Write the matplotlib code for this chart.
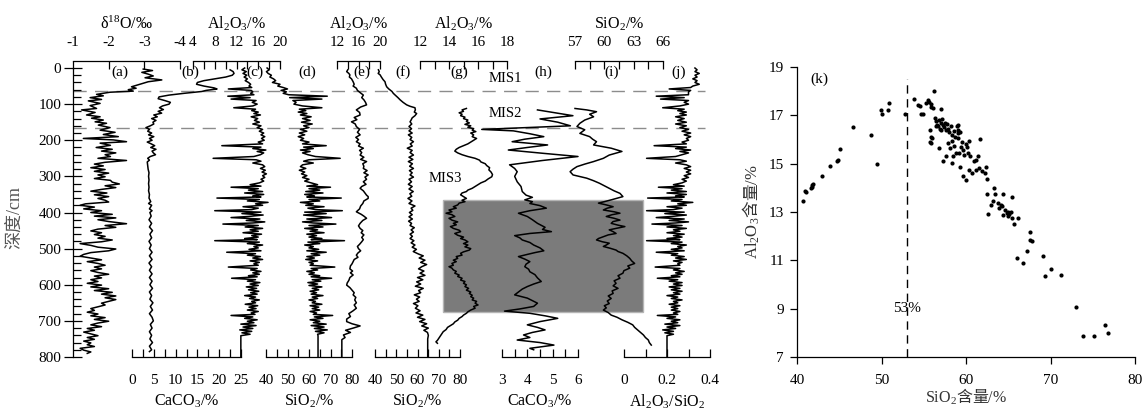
import matplotlib.pyplot as plt
from matplotlib.patches import Rectangle
import numpy as np

plt.rcParams['font.family'] = ['Liberation Serif', 'Noto Sans CJK SC']
plt.rcParams['mathtext.fontset'] = 'custom'
plt.rcParams['mathtext.rm'] = 'Liberation Serif'
plt.rcParams['mathtext.it'] = 'Liberation Serif:italic'
plt.rcParams['mathtext.bf'] = 'Liberation Serif:bold'
plt.rcParams['font.size'] = 11
plt.rcParams['axes.linewidth'] = 0.9

# ---------------- core profiles (depth cm, value) ----------------
d18O = [
    (3, -2.97), (7, -3.23), (12, -2.93), (17, -3.11), (22, -3.25), (27, -3.02), (33, -3.49), (38, -3.11),
    (45, -2.88), (52, -2.64), (56, -2.77), (60, -2.55), (64, -2.69), (67, -2.04), (73, -1.66), (77, -1.85),
    (82, -1.48), (87, -1.80), (91, -1.43), (98, -1.76), (104, -1.48), (112, -1.66), (116, -1.24), (123, -1.62),
    (130, -1.38), (135, -1.76), (139, -1.52), (144, -1.85), (149, -1.62), (153, -1.94), (158, -1.71), (165, -2.04),
    (172, -1.76), (178, -2.18), (184, -1.85), (190, -2.27), (195, -1.29), (199, -2.13), (204, -2.50), (208, -1.76),
    (214, -2.05), (220, -1.65), (225, -2.10), (230, -1.80), (235, -2.20), (240, -1.90), (245, -2.05), (250, -1.70),
    (256, -2.50), (261, -1.90), (266, -1.60), (271, -1.85), (276, -1.50), (281, -1.90), (286, -1.60), (291, -2.00),
    (296, -1.70), (301, -1.90), (306, -1.60), (311, -2.05), (316, -2.10), (321, -2.30), (326, -1.90), (331, -2.20),
    (336, -1.80), (341, -1.50), (346, -1.95), (351, -1.60), (356, -2.00), (361, -1.70), (366, -1.90), (371, -2.00),
    (376, -1.35), (380, -1.20), (385, -1.60), (390, -1.30), (395, -1.80), (400, -1.50), (405, -2.10), (410, -1.60),
    (415, -2.20), (420, -1.70), (425, -2.00), (431, -2.50), (436, -1.90), (441, -2.20), (446, -1.70), (451, -1.50),
    (456, -1.80), (461, -1.60), (466, -1.90), (471, -1.70), (476, -2.10), (481, -1.80), (486, -1.20), (491, -1.50),
    (496, -1.70), (501, -2.20), (506, -2.00), (511, -1.50), (516, -1.30), (521, -1.20), (526, -1.50), (531, -1.80),
    (536, -1.40), (541, -1.70), (546, -1.90), (551, -1.60), (556, -1.80), (561, -1.50), (566, -1.70), (571, -2.00),
    (576, -1.60), (581, -1.80), (586, -1.50), (591, -1.70), (596, -1.40), (601, -1.80), (606, -1.50), (611, -2.00),
    (616, -1.60), (621, -2.10), (626, -1.80), (631, -2.20), (636, -1.90), (641, -2.20), (646, -2.00), (651, -1.80),
    (656, -1.90), (661, -1.70), (666, -1.50), (671, -1.60), (676, -1.40), (681, -1.70), (686, -1.50), (691, -1.90),
    (696, -1.60), (701, -2.00), (706, -1.70), (711, -1.50), (716, -1.80), (721, -1.40), (726, -1.60), (731, -1.30),
    (736, -1.50), (741, -1.70), (746, -1.40), (751, -1.60), (756, -1.30), (761, -1.50), (766, -1.40), (771, -1.60),
    (776, -1.20), (781, -1.30), (786, -1.50), (790, -1.40),
]

caco3_b = [
    (5, 22.5), (10, 23.2), (15, 23.4), (20, 23.0), (25, 21.5), (30, 19.0), (35, 16.5), (40, 15.0), (45, 14.8),
    (50, 16.5), (55, 18.8), (58, 19.5), (62, 17.0), (65, 16.0), (70, 12.0), (75, 8.5), (80, 6.2), (85, 6.0),
    (90, 7.5), (95, 8.8), (100, 8.5), (105, 7.0), (110, 6.3), (115, 7.2), (120, 6.0), (125, 6.8), (130, 5.0),
    (135, 5.8), (140, 4.5), (145, 5.5), (150, 4.8), (155, 5.0), (160, 4.2), (165, 3.2), (170, 4.0), (175, 3.6),
    (180, 4.5), (185, 3.8), (190, 5.0), (195, 4.0), (200, 4.6), (205, 3.5), (210, 4.4), (215, 5.2), (220, 4.3),
    (225, 5.5), (230, 4.6), (235, 4.9), (240, 5.4), (245, 4.2), (250, 3.6), (255, 4.0), (260, 3.5), (270, 3.6),
    (280, 3.7), (290, 3.9), (300, 3.8), (310, 3.9), (320, 3.8), (330, 3.9), (340, 3.8), (350, 4.0), (360, 3.9),
    (370, 4.3), (375, 3.8), (380, 4.5), (390, 4.0), (395, 4.6), (400, 4.1), (410, 4.4), (420, 3.9), (430, 4.5),
    (440, 4.0), (450, 4.7), (460, 4.1), (470, 4.5), (480, 3.9), (490, 4.4), (500, 4.0), (510, 4.6), (520, 4.0),
    (530, 4.6), (540, 3.9), (550, 4.5), (560, 4.0), (570, 4.6), (580, 4.0), (590, 4.6), (600, 4.1), (610, 4.7),
    (620, 4.0), (630, 4.5), (640, 4.1), (650, 4.8), (660, 4.2), (670, 4.7), (680, 4.0), (690, 4.6), (700, 4.9),
    (710, 4.2), (720, 4.6), (730, 4.0), (740, 4.5), (750, 4.1), (760, 4.7), (770, 4.0), (780, 4.5), (785, 4.0),
]

# XRF scan: Al2O3 (c), SiO2 (d) and their ratio (j) share one depth list
xrf_depth = [
    0, 5, 10, 15, 20, 25, 30, 35, 40, 45,
    50, 54, 58, 62, 66, 70, 74, 78, 82, 86,
    90, 95, 100, 105, 110, 114, 118, 122, 126, 130,
    135, 140, 145, 150, 155, 160, 165, 170, 175, 180,
    185, 190, 195, 200, 205, 210, 215, 219, 223, 227,
    231, 235, 240, 245, 250, 254, 258, 263, 268, 273,
    278, 283, 288, 293, 298, 303, 308, 313, 318, 323,
    327, 330, 334, 338, 342, 346, 350, 354, 357, 360,
    364, 368, 372, 376, 380, 384, 388, 392, 395, 399,
    403, 407, 411, 414, 418, 422, 426, 429, 432, 436,
    440, 444, 448, 452, 456, 460, 464, 468, 472, 475,
    478, 482, 486, 490, 494, 498, 502, 506, 510, 514,
    518, 522, 526, 530, 534, 538, 542, 546, 551, 555,
    559, 563, 567, 571, 575, 578, 582, 586, 590, 594,
    598, 602, 606, 610, 614, 618, 622, 626, 630, 634,
    638, 642, 646, 650, 654, 658, 662, 666, 670, 674,
    678, 682, 685, 689, 693, 697, 701, 705, 709, 713,
    717, 721, 725, 729, 733, 737, 741, 800,
]
al2o3_c = [
    13.5, 13.0, 13.8, 13.2, 13.9, 13.4, 14.0, 13.6, 14.2, 14.6,
    14.3, 14.8, 10.5, 14.7, 15.0, 14.6, 15.2, 10.4, 14.5, 11.0,
    15.6, 14.9, 15.8, 15.0, 11.5, 15.5, 14.8, 16.0, 15.2, 16.4,
    14.7, 15.9, 15.3, 16.2, 15.0, 16.5, 15.8, 16.8, 16.2, 17.0,
    16.5, 17.2, 16.6, 17.1, 16.0, 16.8, 9.3, 16.5, 15.0, 17.4,
    15.8, 17.0, 16.4, 15.2, 7.7, 15.6, 16.5, 15.0, 16.8, 17.2,
    16.4, 17.3, 16.7, 17.5, 16.8, 17.2, 16.5, 17.0, 16.2, 14.5,
    16.5, 11.0, 16.0, 14.2, 16.8, 13.5, 17.0, 15.0, 16.5, 8.4,
    16.2, 14.0, 17.8, 15.5, 16.8, 13.2, 16.0, 14.8, 8.0, 16.5,
    13.0, 16.9, 14.2, 11.0, 16.3, 13.8, 17.2, 15.0, 9.5, 16.0,
    13.6, 16.8, 14.5, 16.0, 13.2, 16.6, 14.8, 16.0, 13.5, 15.8,
    8.0, 16.2, 14.0, 16.8, 15.2, 16.0, 14.3, 16.5, 10.2, 15.5,
    14.0, 16.4, 15.0, 16.8, 14.5, 16.2, 15.2, 16.0, 10.5, 15.8,
    14.6, 16.5, 15.0, 16.2, 14.2, 15.8, 11.1, 15.5, 14.0, 16.3,
    14.5, 16.0, 13.8, 15.7, 14.2, 16.1, 14.6, 15.8, 13.5, 15.5,
    14.4, 16.2, 14.8, 15.5, 13.6, 15.9, 14.3, 15.6, 14.0, 16.0,
    14.7, 15.4, 11.0, 15.0, 13.5, 15.8, 14.0, 15.2, 12.8, 15.6,
    13.2, 15.0, 12.6, 14.8, 13.0, 14.5, 12.8, 12.8,
]
sio2_d = [
    40.5, 41.5, 40.2, 41.0, 42.5, 41.8, 43.5, 44.5, 43.0, 46.5,
    45.5, 48.0, 50.0, 47.0, 49.5, 48.0, 50.5, 68.5, 51.0, 66.0,
    52.5, 54.0, 53.0, 57.0, 66.0, 55.5, 58.5, 55.0, 59.0, 56.0,
    61.0, 57.0, 60.5, 56.5, 61.5, 57.5, 60.0, 56.0, 59.0, 55.5,
    58.0, 55.0, 57.5, 56.0, 60.0, 57.0, 68.0, 57.5, 62.0, 56.0,
    60.5, 57.0, 59.5, 63.0, 74.5, 60.0, 57.5, 62.0, 57.0, 56.0,
    58.5, 55.5, 58.0, 56.5, 59.0, 57.0, 60.0, 58.0, 61.0, 64.0,
    59.0, 70.0, 60.0, 65.0, 58.5, 66.5, 58.0, 62.5, 59.0, 75.0,
    60.0, 65.0, 56.0, 62.0, 58.5, 67.0, 59.5, 63.0, 75.5, 58.0,
    68.0, 57.5, 64.5, 70.5, 59.0, 66.0, 57.0, 62.0, 72.5, 60.0,
    66.5, 58.0, 64.0, 60.5, 67.0, 59.0, 63.5, 60.0, 66.0, 61.0,
    76.5, 59.5, 65.0, 58.0, 62.0, 60.0, 64.5, 59.0, 68.0, 61.0,
    65.0, 59.0, 62.5, 58.5, 64.0, 60.0, 62.0, 60.5, 72.0, 61.0,
    64.0, 59.0, 62.5, 60.0, 65.0, 61.0, 70.5, 61.5, 65.5, 59.5,
    64.0, 60.0, 66.0, 61.5, 64.5, 60.5, 63.5, 61.0, 66.5, 61.5,
    64.0, 60.0, 63.0, 61.5, 66.0, 60.5, 64.5, 61.5, 65.0, 60.5,
    63.5, 62.0, 71.0, 62.5, 66.5, 60.5, 65.0, 62.0, 68.0, 61.0,
    67.0, 62.5, 68.5, 63.0, 67.0, 64.0, 64.2, 64.2,
]
ratio_j = [
    0.33, 0.34, 0.33, 0.35, 0.33, 0.34, 0.32, 0.34, 0.33, 0.35,
    0.32, 0.31, 0.21, 0.31, 0.30, 0.30, 0.30, 0.15, 0.28, 0.17,
    0.30, 0.28, 0.30, 0.26, 0.18, 0.28, 0.25, 0.29, 0.26, 0.29,
    0.24, 0.28, 0.25, 0.29, 0.24, 0.29, 0.26, 0.30, 0.27, 0.31,
    0.28, 0.31, 0.29, 0.30, 0.27, 0.29, 0.14, 0.29, 0.24, 0.31,
    0.26, 0.30, 0.27, 0.24, 0.105, 0.26, 0.29, 0.24, 0.29, 0.31,
    0.28, 0.31, 0.29, 0.31, 0.28, 0.30, 0.27, 0.29, 0.27, 0.23,
    0.28, 0.16, 0.27, 0.22, 0.29, 0.20, 0.29, 0.24, 0.28, 0.11,
    0.27, 0.22, 0.32, 0.25, 0.29, 0.20, 0.27, 0.23, 0.105, 0.28,
    0.19, 0.29, 0.22, 0.15, 0.28, 0.21, 0.30, 0.24, 0.13, 0.27,
    0.20, 0.29, 0.23, 0.26, 0.20, 0.28, 0.23, 0.27, 0.20, 0.26,
    0.105, 0.27, 0.22, 0.29, 0.25, 0.27, 0.22, 0.28, 0.15, 0.25,
    0.22, 0.28, 0.24, 0.29, 0.23, 0.27, 0.25, 0.26, 0.145, 0.26,
    0.23, 0.28, 0.24, 0.27, 0.22, 0.26, 0.155, 0.25, 0.21, 0.27,
    0.23, 0.27, 0.21, 0.26, 0.22, 0.27, 0.23, 0.26, 0.20, 0.25,
    0.22, 0.27, 0.23, 0.25, 0.21, 0.26, 0.22, 0.25, 0.22, 0.26,
    0.23, 0.25, 0.155, 0.24, 0.20, 0.26, 0.22, 0.25, 0.19, 0.26,
    0.20, 0.24, 0.18, 0.23, 0.19, 0.23, 0.20, 0.20,
]

al2o3_e = [
    (5, 14.0), (10, 13.8), (15, 14.2), (19, 14.4), (25, 14.3), (30, 14.7), (38, 15.0), (45, 15.2), (50, 15.0),
    (56, 15.6), (62, 15.8), (68, 16.3), (75, 16.9), (82, 16.6), (88, 17.0), (95, 17.3), (102, 17.5), (108, 16.4),
    (116, 15.6), (123, 16.2), (130, 16.3), (137, 15.2), (143, 15.7), (149, 14.7), (155, 15.4), (162, 15.6),
    (170, 16.2), (178, 15.8), (185, 16.3), (192, 15.5), (198, 16.0), (204, 15.6), (210, 16.3), (216, 16.0),
    (222, 16.9), (228, 16.2), (234, 16.6), (241, 16.3), (247, 17.0), (253, 16.4), (259, 17.5), (265, 16.8),
    (272, 17.0), (278, 16.9), (284, 17.6), (290, 17.0), (296, 17.8), (302, 17.2), (308, 17.5), (315, 16.9),
    (322, 17.4), (328, 16.6), (333, 16.3), (340, 16.9), (346, 17.2), (352, 17.5), (356, 17.8), (361, 17.8),
    (368, 17.0), (375, 16.8), (382, 16.4), (390, 16.2), (398, 15.6), (405, 16.5), (410, 17.0), (416, 17.5),
    (422, 16.8), (430, 16.3), (437, 16.0), (444, 16.3), (450, 16.8), (456, 16.5), (462, 17.0), (469, 16.6),
    (475, 16.9), (481, 16.6), (488, 16.2), (494, 15.8), (500, 16.0), (506, 16.4), (512, 15.9), (518, 15.6),
    (524, 15.9), (530, 15.2), (536, 15.0), (542, 14.8), (548, 14.5), (556, 14.4), (562, 14.9), (567, 14.5),
    (573, 15.0), (580, 14.4), (588, 14.2), (595, 13.9), (601, 13.8), (608, 14.4), (615, 14.8), (622, 15.2),
    (628, 15.0), (635, 15.5), (642, 15.3), (650, 15.6), (656, 15.2), (665, 15.6), (672, 15.0), (680, 14.2),
    (688, 14.5), (695, 13.8), (702, 13.8), (708, 14.8), (714, 16.3), (720, 15.0), (726, 13.6), (732, 14.5),
    (739, 13.2), (746, 13.5), (752, 12.9), (757, 12.9), (800, 12.9),
]

sio2_f = [
    (5, 41.6), (10, 42.0), (15, 41.5), (19, 42.4), (25, 43.0), (32, 43.8), (38, 44.7), (45, 45.0), (52, 45.5),
    (58, 46.5), (65, 48.0), (70, 48.6), (75, 49.5), (82, 50.8), (88, 51.8), (95, 53.2), (102, 54.9), (106, 56.5),
    (110, 58.8), (116, 59.0), (122, 58.5), (126, 59.6), (132, 58.8), (138, 57.5), (144, 57.0), (149, 56.5),
    (155, 57.3), (162, 56.0), (168, 57.2), (174, 56.0), (180, 57.5), (185, 55.7), (192, 57.3), (198, 56.5),
    (204, 58.1), (210, 56.6), (216, 57.5), (222, 55.2), (228, 57.5), (234, 56.5), (241, 58.1), (247, 56.0),
    (253, 57.8), (259, 55.7), (265, 57.6), (272, 56.3), (278, 58.1), (284, 56.2), (290, 57.5), (296, 56.5),
    (302, 58.1), (308, 56.0), (315, 57.2), (322, 55.7), (328, 57.5), (335, 56.0), (342, 58.0), (348, 56.4),
    (355, 57.3), (361, 55.5), (368, 57.4), (375, 56.0), (382, 58.8), (388, 57.0), (394, 57.8), (400, 56.2),
    (406, 57.5), (412, 56.0), (418, 57.6), (424, 55.8), (430, 57.2), (436, 56.5), (442, 58.5), (448, 57.0),
    (454, 58.1), (460, 56.5), (466, 57.6), (472, 56.5), (478, 58.3), (484, 57.0), (490, 58.8), (496, 57.5),
    (502, 59.5), (508, 58.0), (515, 60.5), (520, 62.7), (526, 60.8), (532, 63.5), (538, 61.5), (544, 64.3),
    (550, 62.0), (556, 60.5), (562, 63.0), (568, 61.2), (574, 63.5), (580, 60.0), (586, 62.5), (592, 59.6),
    (598, 61.5), (604, 59.0), (610, 62.7), (616, 60.5), (622, 61.5), (628, 58.5), (634, 61.0), (640, 59.5),
    (646, 60.8), (652, 58.1), (658, 60.2), (665, 59.0), (672, 61.2), (678, 59.3), (684, 62.5), (690, 60.0),
    (696, 63.5), (702, 61.0), (708, 64.3), (714, 62.0), (720, 65.1), (726, 63.0), (732, 64.7), (740, 65.1),
    (750, 64.8), (757, 64.8), (800, 64.8),
]

al2o3_g = [
    (112, 15.2), (116, 14.9), (120, 15.0), (124, 14.7), (128, 14.9), (132, 14.8), (136, 15.1), (140, 15.0),
    (144, 15.3), (148, 15.2), (152, 15.4), (156, 15.1), (160, 15.5), (164, 15.3), (168, 15.7), (172, 15.6),
    (176, 15.85), (180, 15.5), (185, 15.7), (190, 15.6), (195, 15.9), (200, 15.7), (205, 15.5), (210, 15.3),
    (215, 15.0), (220, 14.7), (225, 14.5), (230, 14.4), (235, 14.6), (240, 14.9), (245, 15.3), (250, 15.8),
    (255, 16.1), (260, 16.2), (265, 16.5), (270, 16.6), (276, 16.8), (282, 16.75), (288, 16.9), (295, 17.0),
    (301, 16.95), (307, 16.7), (313, 16.5), (318, 16.2), (323, 16.0), (328, 15.8), (333, 15.6), (338, 15.3),
    (342, 15.2), (346, 14.9), (351, 14.8), (356, 15.0), (361, 15.2), (366, 14.9), (370, 15.1), (374, 14.7),
    (379, 14.6), (384, 14.3), (388, 14.5), (393, 14.0), (398, 14.2), (402, 13.8), (406, 14.2), (411, 14.4),
    (416, 14.0), (421, 14.2), (426, 14.6), (430, 14.3), (434, 14.5), (439, 14.1), (444, 14.3), (449, 14.7),
    (453, 14.8), (458, 14.4), (463, 14.6), (468, 15.0), (472, 14.8), (476, 15.1), (481, 15.3), (486, 15.0),
    (490, 15.3), (495, 15.1), (500, 15.5), (504, 15.4), (509, 15.0), (513, 14.8), (518, 14.9), (522, 14.5),
    (527, 14.6), (532, 14.3), (536, 14.5), (541, 14.2), (546, 14.3), (550, 14.0), (554, 14.2), (559, 14.3),
    (563, 14.5), (568, 14.4), (573, 14.7), (577, 14.6), (582, 14.9), (587, 14.8), (591, 15.1), (596, 15.0),
    (600, 15.2), (605, 15.1), (610, 15.35), (615, 15.2), (620, 15.5), (624, 15.4), (629, 15.6), (633, 15.5),
    (637, 15.7), (642, 15.6), (646, 15.9), (651, 15.8), (656, 16.0), (660, 15.7), (665, 15.8), (670, 15.5),
    (675, 15.3), (679, 15.2), (684, 15.0), (688, 14.9), (693, 14.7), (698, 14.6), (703, 14.4), (708, 14.3),
    (713, 14.1), (718, 13.9), (724, 13.8), (730, 13.6), (736, 13.5), (742, 13.4), (748, 13.3), (754, 13.2),
    (758, 13.1), (762, 13.2),
]

caco3_h = [
    (116, 4.4), (124, 5.1), (132, 5.8), (141, 4.5), (150, 5.2), (160, 5.7), (170, 2.2), (174, 3.45), (182, 4.1),
    (190, 4.65), (197, 3.9), (204, 3.4), (213, 4.8), (220, 4.0), (227, 3.25), (236, 4.6), (245, 6.0), (256, 4.6),
    (268, 3.3), (278, 3.5), (287, 3.6), (300, 3.5), (315, 3.6), (328, 3.75), (342, 3.8), (352, 3.95), (358, 4.2),
    (365, 3.9), (370, 4.2), (375, 4.1), (381, 4.5), (388, 4.75), (395, 4.1), (402, 3.65), (406, 3.8), (411, 4.0),
    (420, 4.2), (430, 4.4), (441, 4.7), (447, 4.6), (453, 4.95), (458, 4.1), (464, 3.5), (470, 3.7), (476, 3.8),
    (483, 4.1), (490, 4.25), (498, 4.5), (506, 4.65), (511, 4.3), (516, 4.0), (522, 3.65), (529, 3.9), (536, 4.1),
    (543, 3.95), (550, 3.9), (557, 4.05), (564, 4.1), (572, 4.3), (581, 4.4), (591, 4.55), (598, 4.25), (605, 4.0),
    (612, 3.8), (620, 3.65), (628, 3.5), (637, 4.0), (644, 4.2), (651, 4.4), (660, 4.25), (667, 3.7), (673, 3.1),
    (679, 4.1), (686, 4.7), (693, 5.2), (702, 4.5), (711, 4.0), (718, 4.4), (725, 4.7), (732, 4.2), (739, 3.85),
    (746, 4.1), (753, 3.6), (760, 4.5), (767, 5.05), (776, 4.1), (780, 4.25),
]

sio2_i = [
    (112, 57.0), (116, 58.2), (121, 59.2), (128, 58.5), (135, 58.9), (144, 58.0), (153, 57.5), (162, 57.2),
    (171, 58.0), (181, 57.5), (190, 58.5), (197, 58.8), (204, 59.2), (213, 58.9), (222, 60.7), (231, 61.8),
    (241, 60.5), (250, 59.9), (259, 58.9), (266, 58.0), (273, 57.2), (280, 56.8), (287, 56.5), (296, 56.8),
    (305, 58.2), (312, 58.9), (319, 59.5), (326, 60.0), (333, 60.5), (340, 61.0), (347, 61.6), (356, 61.9),
    (365, 60.7), (370, 60.0), (374, 59.4), (379, 60.2), (384, 60.9), (388, 60.3), (393, 59.9), (398, 61.0),
    (402, 61.6), (406, 60.8), (411, 60.2), (416, 61.0), (421, 61.6), (425, 60.9), (430, 60.7), (435, 61.4),
    (439, 62.1), (444, 61.2), (448, 60.5), (453, 60.9), (458, 61.2), (462, 60.4), (467, 59.9), (472, 59.4),
    (476, 59.2), (481, 59.8), (485, 60.5), (490, 60.2), (494, 59.9), (499, 60.6), (504, 61.2), (508, 61.4),
    (513, 61.9), (520, 62.3), (527, 62.6), (534, 62.8), (541, 63.1), (548, 62.4), (554, 62.6), (561, 62.0),
    (568, 61.9), (575, 61.4), (582, 61.6), (589, 61.0), (596, 61.2), (603, 60.9), (610, 61.4), (617, 60.8),
    (624, 60.9), (631, 60.4), (638, 60.7), (645, 60.3), (652, 60.5), (658, 60.0), (664, 60.2), (670, 59.9),
    (677, 60.4), (684, 60.7), (690, 61.3), (697, 61.8), (704, 62.4), (711, 62.9), (718, 63.1), (725, 63.4),
    (732, 63.7), (739, 64.0), (746, 64.2), (753, 64.5), (760, 64.6), (767, 64.8),
]

mis_bounds = [65, 165]
mis_labels = ['MIS1', 'MIS2', 'MIS3']
mis_label_depth = [28, 125, 305]
shade_depth = (365, 675)

# SiO2 vs Al2O3 of bulk samples
sio2_al2o3 = [
    (40.7, 13.47), (40.9, 13.88), (41.1, 13.84), (41.7, 13.98), (41.8, 14.12), (41.8, 14.02), (41.9, 14.15),
    (43.0, 14.47), (43.9, 14.92), (44.7, 15.12), (44.8, 15.16), (45.1, 15.6), (46.6, 16.5), (48.7, 16.2),
    (49.5, 14.98), (49.9, 17.2), (50.0, 17.06), (50.8, 17.23), (50.9, 17.53), (52.8, 17.04),
    (53.9, 17.67), (54.3, 17.44), (54.5, 17.37), (54.7, 17.05), (54.9, 17.05), (55.3, 17.5), (55.5, 17.65),
    (55.6, 17.55), (55.8, 17.33), (55.9, 17.47), (56.1, 17.3), (56.2, 18.02), (57.0, 17.27),
    (56.3, 16.9), (56.5, 16.75), (56.4, 16.55), (56.6, 16.62), (56.8, 16.82), (56.9, 16.45), (57.0, 16.7),
    (57.1, 16.4), (57.2, 16.85), (57.3, 16.6), (57.4, 16.5), (57.5, 16.7), (57.6, 16.38), (57.8, 16.65),
    (57.9, 16.45), (58.0, 16.3), (58.2, 16.55), (58.4, 16.2), (58.6, 16.35), (58.9, 16.54), (59.0, 16.6),
    (59.1, 16.4), (59.3, 16.33), (59.0, 16.25), (58.7, 16.1),
    (55.7, 16.4), (55.8, 16.12), (55.7, 15.9), (55.9, 15.85), (56.0, 16.05), (56.7, 16.54), (56.8, 15.64),
    (57.3, 15.09), (57.6, 15.3), (57.9, 15.85), (58.1, 15.64), (58.4, 15.02), (58.5, 15.3), (58.3, 15.95),
    (58.6, 15.75), (58.8, 15.45), (59.1, 16.06), (59.2, 15.43), (59.3, 14.88), (59.4, 15.7), (59.5, 15.9),
    (59.6, 15.55), (59.7, 14.47), (59.8, 15.35), (60.0, 14.33), (60.0, 15.8), (60.1, 15.71), (60.2, 15.43),
    (60.4, 15.92), (60.3, 14.74), (60.5, 15.3), (60.7, 14.6), (60.9, 15.1), (61.2, 15.16), (61.2, 14.74),
    (61.4, 15.3), (61.5, 14.8), (61.6, 16.01), (61.9, 14.7), (62.2, 14.6), (62.4, 14.88), (62.5, 14.35),
    (62.5, 13.75), (62.6, 12.92), (62.9, 13.29), (63.2, 13.46), (63.3, 13.98), (63.4, 13.75), (63.8, 13.39),
    (63.9, 13.15), (64.1, 13.3), (64.3, 13.25), (64.4, 13.73), (64.4, 12.88), (64.6, 13.1), (64.8, 12.94),
    (65.0, 13.02), (65.1, 12.9), (65.3, 12.98), (65.0, 12.85), (65.5, 13.6), (65.5, 12.74), (65.7, 12.5),
    (66.2, 12.74), (66.0, 11.1), (66.7, 10.87), (67.2, 11.4), (67.6, 12.16), (67.6, 11.84), (67.8, 11.81),
    (69.1, 11.17), (69.3, 10.35), (70.0, 10.65), (71.2, 10.41), (73.0, 9.05), (73.8, 7.87), (75.2, 7.86),
    (76.4, 8.34), (76.8, 8.0),
]
sio2_split = 53

# ---------------- layout (pixels) ----------------
W, H = 1145, 409
Y_TOP, Y_BOT = 61, 357          # rows of the top brackets and of 800 cm
D_MAX, D_TOP = 800, -19.4       # depth range covered by those rows

fig = plt.figure(figsize=(W / 100, H / 100), dpi=100)


def frame(x0, x1, y0=Y_TOP, y1=Y_BOT):
    return [x0 / W, 1 - y1 / H, (x1 - x0) / W, (y1 - y0) / H]


def panel(x0, x1, lim, major, minor, title, side):
    ax = fig.add_axes(frame(x0, x1))
    ax.patch.set_visible(False)
    ax.set_xlim(lim)
    ax.set_ylim(D_MAX, D_TOP)
    for name, sp in ax.spines.items():
        sp.set_visible(name == side)
    ax.set_yticks([])
    ax.set_xticks(major, [f'{t:g}' for t in major])
    ax.set_xticks(minor, minor=True)
    top = side == 'top'
    ax.tick_params(axis='x', which='both', direction='in', length=5.5, width=0.9,
                   top=top, bottom=not top, labeltop=top, labelbottom=not top)
    ax.tick_params(axis='x', which='major', pad=9.0 if top else 12, labelsize=11)
    if top:
        ax.xaxis.set_label_position('top')
    ax.set_xlabel(title, labelpad=5 if top else 4, fontsize=11.5)
    return ax


def trace(ax, depth, value):
    ax.plot(value, depth, color='k', lw=1.1, clip_on=False)


def trace_pairs(ax, pairs):
    d, v = np.array(pairs).T
    trace(ax, d, v)


# background layer: MIS boundaries, shaded interval, labels
base = fig.add_axes(frame(0, W))
base.set_xlim(0, W)
base.set_ylim(D_MAX, D_TOP)
base.axis('off')
base.add_patch(Rectangle((443, shade_depth[0]), 200, shade_depth[1] - shade_depth[0],
                         facecolor='#7b7b7b', edgecolor='#b5b5b5', lw=1))
for b in mis_bounds:
    base.plot([73, 705], [b, b], color='#8c8c8c', lw=1, dashes=(9.5, 6))
for name, d, x in zip(mis_labels, mis_label_depth, [505, 505, 445]):
    base.text(x, d, name, ha='center', va='center', fontsize=10.5)
for tag, x in zip('abcdefghij', [120, 190, 255, 307, 362, 403, 459, 543, 612, 679]):
    base.text(x, 12, f'({tag})', ha='center', va='center', fontsize=11)

# (a) oxygen isotopes, also carries the depth axis
ax_a = panel(73, 180, (-1, -4), [-1, -2, -3, -4], [], r'δ$^{18}$O/‰', 'top')
ax_a.set_xticks([-1, -2, -3, -4], ['-1', '-2', '-3', '-4'])
ax_a.spines['left'].set_visible(True)
ax_a.spines['left'].set_bounds(0, D_MAX)
ax_a.set_yticks(range(0, 801, 100))
ax_a.set_yticks(range(0, 801, 20), minor=True)
ax_a.tick_params(axis='y', which='major', direction='inout', length=13, width=0.9, pad=2,
                 left=True, labelsize=11)
ax_a.tick_params(axis='y', which='minor', direction='in', length=6, width=0.9, left=True)
ax_a.set_ylabel('深度/cm', color='#555555', fontsize=13)
ax_a.yaxis.set_label_coords(-0.47, 0.47)
trace_pairs(ax_a, d18O)

ax_b = panel(132, 241, (0, 25), [0, 5, 10, 15, 20, 25], [2.5, 7.5, 12.5, 17.5, 22.5],
             r'CaCO$_3$/%', 'bottom')
trace_pairs(ax_b, caco3_b)

ax_c = panel(193, 280, (4, 20), [4, 8, 12, 16, 20], [6, 10, 14, 18], r'Al$_2$O$_3$/%', 'top')
trace(ax_c, xrf_depth, al2o3_c)

ax_d = panel(266, 352, (40, 80), [40, 50, 60, 70, 80], [45, 55, 65, 75], r'SiO$_2$/%', 'bottom')
trace(ax_d, xrf_depth, sio2_d)

ax_e = panel(337, 380, (12, 20), [12, 16, 20], [14, 18], r'Al$_2$O$_3$/%', 'top')
trace_pairs(ax_e, al2o3_e)

ax_f = panel(375, 460, (40, 80), [40, 50, 60, 70, 80], [45, 55, 65, 75], r'SiO$_2$/%', 'bottom')
trace_pairs(ax_f, sio2_f)

ax_g = panel(420, 507, (12, 18), [12, 14, 16, 18], [13, 15, 17], r'Al$_2$O$_3$/%', 'top')
trace_pairs(ax_g, al2o3_g)

ax_h = panel(502, 578, (3, 6), [3, 4, 5, 6], [3.5, 4.5, 5.5], r'CaCO$_3$/%', 'bottom')
trace_pairs(ax_h, caco3_h)

ax_i = panel(575, 663, (57, 66), [57, 60, 63, 66], [58.5, 61.5, 64.5], r'SiO$_2$/%', 'top')
trace_pairs(ax_i, sio2_i)

ax_j = panel(624, 710, (0, 0.4), [0, 0.2, 0.4], [0.1, 0.3], r'Al$_2$O$_3$/SiO$_2$', 'bottom')
trace(ax_j, xrf_depth, ratio_j)

# (k) SiO2 - Al2O3 scatter
ax_k = fig.add_axes(frame(797, 1135, 67, 357))
sx, sy = np.array(sio2_al2o3).T
ax_k.scatter(sx, sy, s=9, c='k', linewidths=0, clip_on=False)
ax_k.set_xlim(40, 80)
ax_k.set_ylim(7, 19)
ax_k.set_xticks([40, 50, 60, 70, 80])
ax_k.set_yticks([7, 9, 11, 13, 15, 17, 19])
ax_k.spines['top'].set_visible(False)
ax_k.spines['right'].set_visible(False)
ax_k.tick_params(direction='out', length=5, width=0.9, pad=4.5, labelsize=11)
ax_k.tick_params(axis='x', pad=7)
ax_k.plot([sio2_split, sio2_split], [7, 18.5], color='k', lw=1, dashes=(6, 4))
ax_k.text(sio2_split, 9.0, f'{sio2_split}%', ha='center', va='center', fontsize=11)
ax_k.text(42.6, 18.5, '(k)', ha='center', va='center', fontsize=11)
ax_k.set_ylabel(r'$\mathrm{Al_2O_3}$含量$\mathrm{/\%}$', family='Noto Sans CJK SC',
                fontsize=12, color='#333333', labelpad=5)
ax_k.set_xlabel(r'$\mathrm{SiO_2}$含量$\mathrm{/\%}$', family='Noto Sans CJK SC',
                fontsize=11.5, color='#333333', labelpad=0)

fig.savefig('out.png', dpi=100)
